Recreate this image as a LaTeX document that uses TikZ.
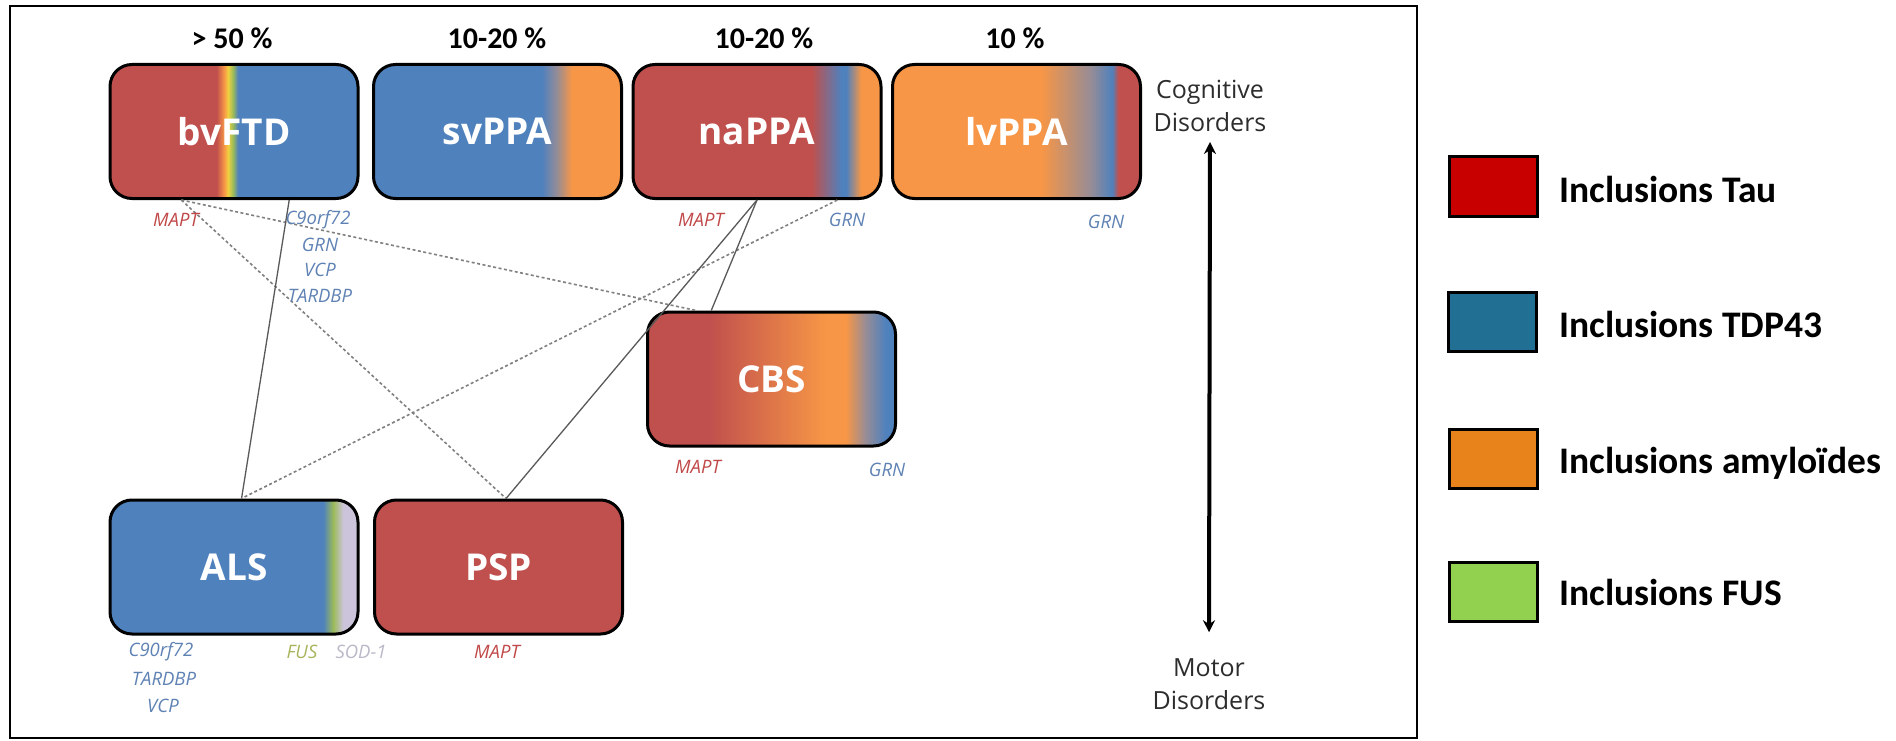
\documentclass[tikz,border=0pt]{standalone}
\usepackage{fontspec}
\setmainfont{Carlito}
\newfontfamily\osfont{Open Sans}
\usetikzlibrary{calc,arrows.meta}
\definecolor{cr}{RGB}{192,80,77}
\definecolor{cb}{RGB}{79,129,189}
\definecolor{co}{RGB}{247,150,70}
\definecolor{cy}{RGB}{240,208,64}
\definecolor{cg}{RGB}{155,187,89}
\definecolor{cgr}{RGB}{150,140,150}
\definecolor{clav}{RGB}{204,196,218}
\definecolor{lgtau}{RGB}{200,0,0}
\definecolor{lgtdp}{RGB}{33,111,146}
\definecolor{lgamy}{RGB}{232,130,26}
\definecolor{lgfus}{RGB}{146,208,80}
\definecolor{genered}{RGB}{192,72,72}
\definecolor{geneblue}{RGB}{95,130,180}
\definecolor{genefus}{RGB}{170,180,90}
\definecolor{genesod}{RGB}{185,185,200}
\definecolor{axtxt}{RGB}{45,45,45}
% horizontal shadings: 25bp = left edge, 75bp = right edge
\pgfdeclarehorizontalshading{shbv}{100bp}{color(0bp)=(cr); color(46.5bp)=(cr); color(48bp)=(co); color(48.8bp)=(cy); color(49.8bp)=(cg); color(50.8bp)=(cb); color(100bp)=(cb)}
\pgfdeclarehorizontalshading{shsv}{100bp}{color(0bp)=(cb); color(59bp)=(cb); color(62bp)=(cgr); color(65bp)=(co); color(100bp)=(co)}
\pgfdeclarehorizontalshading{shna}{100bp}{color(0bp)=(cr); color(61bp)=(cr); color(67bp)=(cb); color(68bp)=(cb); color(71bp)=(co); color(100bp)=(co)}
\pgfdeclarehorizontalshading{shlv}{100bp}{color(0bp)=(co); color(55bp)=(co); color(65bp)=(cgr); color(69.3bp)=(cb); color(70.5bp)=(cr); color(100bp)=(cr)}
\pgfdeclarehorizontalshading{shcbs}{100bp}{color(0bp)=(cr); color(37.5bp)=(cr); color(61bp)=(co); color(65bp)=(co); color(69bp)=(cgr); color(73bp)=(cb); color(100bp)=(cb)}
\pgfdeclarehorizontalshading{shals}{100bp}{color(0bp)=(cb); color(68bp)=(cb); color(70bp)=(cg); color(72bp)=(clav); color(100bp)=(clav)}
\tikzset{
  dbox/.style={rounded corners=22pt, draw=black, line width=3pt, minimum width=248pt, minimum height=134pt, inner sep=0pt, text=white, font=\osfont\fontsize{37}{44}\selectfont\bfseries},
  pct/.style={font=\fontsize{30}{36}\selectfont\bfseries, text=black, inner sep=0pt},
  gene/.style={font=\osfont\fontsize{18.5}{22}\selectfont\itshape, inner sep=0pt},
  axlab/.style={font=\osfont\fontsize{25}{33}\selectfont, text=axtxt, align=center, inner sep=0pt},
  lgbox/.style={draw=black, line width=3pt, minimum width=88pt, minimum height=59pt, inner sep=0pt},
  lgtext/.style={font=\fontsize{37.5}{44}\selectfont\bfseries, anchor=base west, inner sep=0pt},
  solidlink/.style={draw=black!65, line width=1.3pt},
  dashlink/.style={draw=black!50, line width=1.6pt, dash pattern=on 3pt off 2.5pt},
}
\begin{document}
\begin{tikzpicture}[x=1pt,y=-1pt]
\useasboundingbox (0,0) rectangle (1896,741);
\fill[white] (0,0) rectangle (1896,741);
% frame
\draw[line width=2pt] (10,6) rectangle (1417,738);

% percentages
\node[pct] (p1) at (232,38) {> 50 \%};
\node[pct] (p2) at (497,38) {10-20 \%};
\node[pct] (p3) at (764,38) {10-20 \%};
\node[pct] (p4) at (1015,38) {10 \%};

% boxes
\node[dbox, shading=shbv] (bv) at (234,131.5) {bvFTD};
\node[dbox, shading=shsv] (sv) at (497.5,131.5) {svPPA};
\node[dbox, shading=shna] (na) at (757,131.5) {naPPA};
\node[dbox, shading=shlv] (lv) at (1016.5,131.5) {lvPPA};
\node[dbox, shading=shcbs] (cbs) at (771.5,379) {CBS};
\node[dbox, shading=shals] (als) at (234,567) {ALS};
\node[dbox, fill=cr] (psp) at (498.5,567) {PSP};

% links
\draw[dashlink] ($(bv.south west)!0.29!(bv.south east)$) -- ($(cbs.north west)!0.2!(cbs.north east)$);
\draw[dashlink] ($(bv.south west)!0.29!(bv.south east)$) -- ($(psp.north west)!0.53!(psp.north east)$);
\draw[solidlink] ($(bv.south west)!0.72!(bv.south east)$) -- ($(als.north west)!0.53!(als.north east)$);
\draw[dashlink] ($(na.south west)!0.82!(na.south east)$) -- ($(als.north west)!0.53!(als.north east)$);
\draw[solidlink] (na.south) -- ($(cbs.north west)!0.26!(cbs.north east)$);
\draw[solidlink] (na.south) -- ($(psp.north west)!0.53!(psp.north east)$);

% gene labels
\node[gene, text=genered] (g1) at (176,220) {MAPT};
\node[gene, text=geneblue] (g2) at (318,220) {C9orf72};
\node[gene, text=geneblue] (g3) at (320,245) {GRN};
\node[gene, text=geneblue] (g4) at (320,270) {VCP};
\node[gene, text=geneblue] (g5) at (320,296) {TARDBP};
\node[gene, text=genered] (g6) at (701,220) {MAPT};
\node[gene, text=geneblue] (g7) at (847,220) {GRN};
\node[gene, text=geneblue] (g8) at (1106,222) {GRN};
\node[gene, text=genered] (g9) at (698,467) {MAPT};
\node[gene, text=geneblue] (g10) at (887,470) {GRN};
\node[gene, text=geneblue] (g11) at (161,652) {C90rf72};
\node[gene, text=geneblue] (g12) at (164,679) {TARDBP};
\node[gene, text=geneblue] (g13) at (163,706) {VCP};
\node[gene, text=genefus] (g14) at (302,652) {FUS};
\node[gene, text=genesod] (g15) at (361,652) {SOD-1};
\node[gene, text=genered] (g16) at (497,652) {MAPT};

% axis
\node[axlab] (cog) at (1210,106) {Cognitive\\Disorders};
\node[axlab] (mot) at (1209,684) {Motor\\Disorders};
\draw[line width=4pt, {Stealth[length=12pt,width=12pt]}-{Stealth[length=12pt,width=12pt]}] ([yshift=-10pt]cog.south) -- ([yshift=26pt]mot.north);

% legend
\node[lgbox, fill=lgtau] (l1) at (1493,186.5) {};
\node[lgbox, fill=lgtdp] (l2) at (1492,322) {};
\node[lgbox, fill=lgamy] (l3) at (1493.5,458.5) {};
\node[lgbox, fill=lgfus] (l4) at (1493.5,592) {};
\node[lgtext] (t1) at (1559,202) {Inclusions Tau};
\node[lgtext] (t2) at (1559,337) {Inclusions TDP43};
\node[lgtext] (t3) at (1559,473) {Inclusions amyloïdes};
\node[lgtext] (t4) at (1559,605) {Inclusions FUS};
\end{tikzpicture}
\end{document}
